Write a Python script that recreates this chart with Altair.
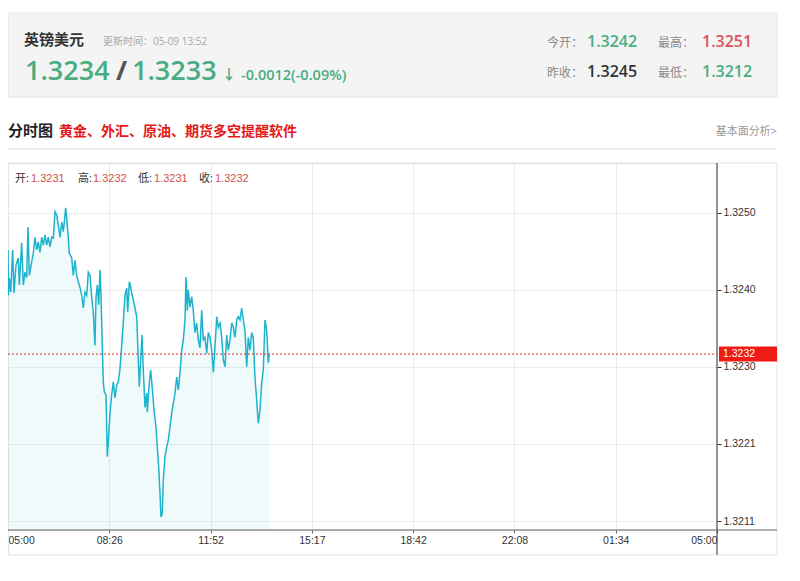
import altair as alt
import pandas as pd

# ---------------- data ----------------
MINUTES = [0, 1.0, 2.6, 5.5, 9.5, 12.2, 16.2, 20.9, 23.0, 27.8, 31.1, 34.5, 38.0, 40.6, 43.3,
           48.1, 51.4, 54.8, 58.3, 61.5, 65.0, 68.4, 71.7, 75.1, 78.6, 81.8, 85.3, 88.8, 92.0,
           95.5, 98.9, 102.2, 105.6, 109.1, 112.3, 117.2, 119.2, 122.5, 124.5, 129.4, 132.6,
           136.1, 139.5, 142.8, 146.2, 149.7, 152.9, 156.4, 159.8, 163.1, 166.5, 170.0, 173.2,
           176.7, 178.7, 181.4, 184.2, 186.9, 188.9, 190.9, 193.6, 195.6, 199.0, 200.5, 201.7,
           204.5, 207.2, 210.6, 213.9, 217.3, 220.8, 224.0, 227.5, 230.9, 234.2, 237.6, 241.1,
           243.1, 246.4, 247.8, 251.2, 254.5, 257.9, 261.4, 264.6, 266.7, 269.5, 272.2, 274.8,
           278.2, 281.7, 282.9, 287.0, 289.8, 293.9, 296.5, 300.6, 303.2, 306.1, 308.7, 310.7,
           313.4, 315.4, 318.9, 322.3, 325.6, 329.0, 332.5, 335.7, 339.2, 342.6, 345.9, 349.3,
           352.8, 356.0, 359.5, 361.5, 364.2, 366.2, 369.6, 373.1, 376.3, 379.8, 383.2, 386.5,
           390.0, 393.4, 396.7, 400.1, 403.6, 406.8, 410.3, 413.7, 417.0, 420.4, 423.9, 427.1,
           430.6, 434.0, 437.3, 440.7, 444.2, 447.4, 450.9, 454.3, 457.6, 461.0, 464.5, 467.7,
           471.2, 474.6, 477.9, 481.3, 484.8, 488.0, 491.5, 494.9, 498.2, 501.6, 505.1, 508.3,
           511.8, 515.2, 518.5, 522.0, 525.4, 528.7, 530.7]
PRICES = [1.32451, 1.32394, 1.32416, 1.32398, 1.32451, 1.32397, 1.32432, 1.32441, 1.32407,
          1.32460, 1.32407, 1.32423, 1.32416, 1.32480, 1.32419, 1.32436, 1.32447, 1.32467,
          1.32451, 1.32461, 1.32448, 1.32467, 1.32457, 1.32470, 1.32457, 1.32467, 1.32455,
          1.32467, 1.32466, 1.32499, 1.32495, 1.32482, 1.32467, 1.32486, 1.32474, 1.32504,
          1.32491, 1.32466, 1.32447, 1.32441, 1.32419, 1.32438, 1.32419, 1.32411, 1.32404,
          1.32394, 1.32378, 1.32398, 1.32394, 1.32423, 1.32419, 1.32391, 1.32373, 1.32331,
          1.32391, 1.32407, 1.32382, 1.32426, 1.32394, 1.32344, 1.32285, 1.32272, 1.32269,
          1.32227, 1.32191, 1.32218, 1.32247, 1.32269, 1.32285, 1.32265, 1.32281, 1.32285,
          1.32302, 1.32331, 1.32360, 1.32394, 1.32403, 1.32373, 1.32411, 1.32409, 1.32397,
          1.32388, 1.32378, 1.32367, 1.32313, 1.32279, 1.32313, 1.32344, 1.32300, 1.32253,
          1.32271, 1.32247, 1.32284, 1.32300, 1.32271, 1.32250, 1.32228, 1.32203, 1.32178,
          1.32145, 1.32115, 1.32120, 1.32162, 1.32191, 1.32203, 1.32212, 1.32228, 1.32246,
          1.32258, 1.32271, 1.32291, 1.32275, 1.32296, 1.32325, 1.32338, 1.32363, 1.32417,
          1.32375, 1.32401, 1.32379, 1.32392, 1.32375, 1.32347, 1.32359, 1.32338, 1.32328,
          1.32375, 1.32338, 1.32341, 1.32321, 1.32347, 1.32341, 1.32325, 1.32297, 1.32329,
          1.32367, 1.32354, 1.32359, 1.32341, 1.32313, 1.32304, 1.32344, 1.32325, 1.32338,
          1.32359, 1.32354, 1.32341, 1.32363, 1.32367, 1.32363, 1.32378, 1.32363, 1.32350,
          1.32304, 1.32341, 1.32325, 1.32347, 1.32341, 1.32291, 1.32262, 1.32233, 1.32250,
          1.32284, 1.32300, 1.32363, 1.32350, 1.32309, 1.32320]

X_LABELS = ["05:00", "08:26", "11:52", "15:17", "18:42", "22:08", "01:34", "05:00"]
Y_TICKS = [1.32110, 1.32207, 1.32304, 1.32401, 1.32498]
Y_DOMAIN = [1.320987, 1.325604]
LAST_PRICE = 1.3232

TITLE = "英镑美元"
UPDATED = "更新时间：05-09 13:52"
BID = "1.3234"
ASK = "1.3233"
CHANGE = "-0.0012(-0.09%)"
OPEN_LBL, OPEN_VAL = "今开：", "1.3242"
HIGH_LBL, HIGH_VAL = "最高：", "1.3251"
PREV_LBL, PREV_VAL = "昨收：", "1.3245"
LOW_LBL, LOW_VAL = "最低：", "1.3212"
SECTION = "分时图"
PROMO = "黄金、外汇、原油、期货多空提醒软件"
LINK = "基本面分析>"
OHLC_LBLS = ["开:", "高:", "低:", "收:"]
OHLC_VALS = ["1.3231", "1.3232", "1.3231", "1.3232"]

# ---------------- chart ----------------
df = pd.DataFrame({"m": MINUTES, "v": PRICES})
one = pd.DataFrame({"k": [0]})

W, H = 709, 367
BOX_W, BOX_H = 769, 392
FONT = "Open Sans, Noto Sans CJK SC"
AXFONT = "Liberation Sans"
GREEN = "#48ad80"
LINE = "#1db3cc"

step = 1440 / 7
label_expr = "[" + ",".join("'%s'" % s for s in X_LABELS) + "][round(datum.value / %f)]" % step

x_enc = alt.X("m:Q", scale=alt.Scale(domain=[0, 1440], nice=False, zero=False),
              axis=alt.Axis(values=[i * step for i in range(8)], labelExpr=label_expr,
                            title=None, grid=True, gridColor="#ececec", domain=False,
                            tickColor="#666", tickSize=3, labelPadding=2, labelFlush=True,
                            labelFont=AXFONT, labelFontSize=10.5, labelColor="#333"))
y_enc = alt.Y("v:Q", scale=alt.Scale(domain=Y_DOMAIN, nice=False, zero=False),
              axis=alt.Axis(orient="right", values=Y_TICKS, format=".4f", title=None,
                            grid=True, gridColor="#ececec", domain=False, tickColor="#333",
                            tickSize=4, labelPadding=2, labelFont=AXFONT, labelFontSize=10.5,
                            labelColor="#333"))


def txt(s, x, y, size, color, weight="normal", align="left", font=FONT):
    return alt.Chart(one).mark_text(text=s, align=align, baseline="alphabetic", fontSize=size,
                                    color=color, fontWeight=weight, font=font).encode(
        x=alt.value(x), y=alt.value(y))


def rule(x, x2, y, y2, color, width=1):
    return alt.Chart(one).mark_rule(color=color, strokeWidth=width).encode(
        x=alt.value(x), x2=alt.value(x2), y=alt.value(y), y2=alt.value(y2))


header_box = alt.Chart(one).mark_rect(fill="#f4f4f4", stroke="#e6e6e6").encode(
    x=alt.value(0.5), x2=alt.value(BOX_W), y=alt.value(-150), y2=alt.value(-66))
chart_box = alt.Chart(one).mark_rect(fillOpacity=0, stroke="#e4e4e4").encode(
    x=alt.value(0.5), x2=alt.value(BOX_W), y=alt.value(0), y2=alt.value(BOX_H))

area = alt.Chart(df).mark_area(color=LINE, opacity=0.07).encode(
    x=x_enc, y=y_enc, y2=alt.datum(Y_DOMAIN[0]))
line = alt.Chart(df).mark_line(color=LINE, strokeWidth=1.5).encode(x="m:Q", y="v:Q")

last_rule = alt.Chart(one).mark_rule(color="#e8231e", strokeDash=[2, 2], strokeWidth=1).encode(
    x=alt.value(0), x2=alt.value(W), y=alt.datum(LAST_PRICE))
last_bg = alt.Chart(one).mark_rect(fill="#ee1c14", yOffset=-7.5, y2Offset=7.5).encode(
    x=alt.value(711), x2=alt.value(BOX_W), y=alt.datum(LAST_PRICE), y2=alt.datum(LAST_PRICE))
last_txt = alt.Chart(one).mark_text(text="%.4f" % LAST_PRICE, align="left", baseline="middle",
                                    fontSize=10.5, color="white", font=AXFONT).encode(
    x=alt.value(715), y=alt.datum(LAST_PRICE))

layers = [
    header_box, chart_box, area, line,
    rule(W, W, 0, BOX_H, "#333"),
    rule(0, BOX_W, H, H, "#666"),
    rule(0, BOX_W, -14, -14, "#dddddd"),
    last_rule, last_bg, last_txt,
    txt(TITLE, 16, -118, 15, "#333", "bold"),
    txt(UPDATED, 95, -118, 10, "#a8a8a8"),
    txt(BID, 17, -83, 27, GREEN, 600),
    txt("/", 108, -83, 27, "#555", "bold"),
    txt(ASK, 124, -83, 27, GREEN, 600),
    txt("↓", 214, -84, 14, GREEN, "bold"),
    txt(CHANGE, 233, -83, 14.5, GREEN, 600),
    txt(OPEN_LBL, 539, -116, 12, "#888"),
    txt(OPEN_VAL, 579, -116, 16, GREEN, 600),
    txt(HIGH_LBL, 650, -116, 12, "#888"),
    txt(HIGH_VAL, 694, -116, 16, "#e0505a", 600),
    txt(PREV_LBL, 539, -86, 12, "#888"),
    txt(PREV_VAL, 579, -86, 16, "#333", 600),
    txt(LOW_LBL, 650, -86, 12, "#888"),
    txt(LOW_VAL, 694, -86, 16, GREEN, 600),
    txt(SECTION, 0, -27, 15, "#222", "bold"),
    txt(PROMO, 51, -27, 14, "#e41a1a", "bold"),
    txt(LINK, BOX_W, -28, 11, "#999", align="right"),
]
lbl_x = [7, 70, 130, 191]
val_x = [23, 85, 146, 207]
for lx, vx, lt, vt in zip(lbl_x, val_x, OHLC_LBLS, OHLC_VALS):
    layers.append(txt(lt, lx, 18.5, 11, "#333"))
    layers.append(txt(vt, vx, 18.5, 11, "#d2524f", font=AXFONT))

chart = alt.layer(*layers).properties(
    width=W, height=H,
    autosize=alt.AutoSizeParams(type="none"),
    padding={"left": 0, "top": 155, "right": 75, "bottom": 40},
).configure_view(strokeWidth=0).configure(background="white")

chart.save("out.html", embed_options={"renderer": "svg", "actions": False})
